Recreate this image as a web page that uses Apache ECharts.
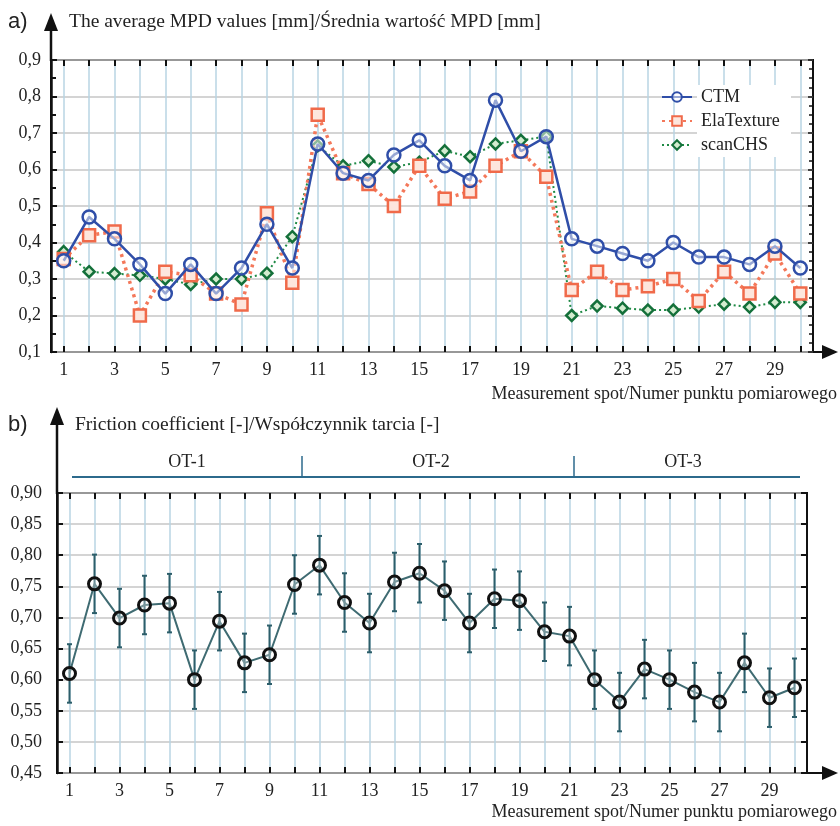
<!DOCTYPE html>
<html>
<head>
<meta charset="utf-8">
<script src="https://cdn.jsdelivr.net/npm/echarts@6/dist/echarts.min.js"></script>
<style>
html,body{margin:0;padding:0;background:#fff;}
#main{width:840px;height:826px;}
</style>
</head>
<body>
<div id="main"></div>
<script>
// ---- data ----
const categories = ['1','2','3','4','5','6','7','8','9','10','11','12','13','14','15','16','17','18','19','20','21','22','23','24','25','26','27','28','29','30'];
const ctm = [0.35,0.47,0.41,0.34,0.26,0.34,0.26,0.33,0.45,0.33,0.67,0.59,0.57,0.64,0.68,0.61,0.57,0.79,0.65,0.69,0.41,0.39,0.37,0.35,0.40,0.36,0.36,0.34,0.39,0.33];
const elaTexture = [0.355,0.42,0.43,0.20,0.32,0.31,0.26,0.23,0.48,0.29,0.75,0.59,0.56,0.50,0.61,0.52,0.54,0.61,0.65,0.58,0.27,0.32,0.27,0.28,0.30,0.24,0.32,0.26,0.37,0.26];
const scanCHS = [0.375,0.32,0.315,0.31,0.30,0.285,0.30,0.30,0.316,0.416,0.665,0.61,0.624,0.607,0.62,0.651,0.635,0.67,0.68,0.69,0.20,0.226,0.22,0.215,0.215,0.223,0.231,0.223,0.236,0.236];
const friction = [0.610,0.754,0.699,0.720,0.723,0.600,0.694,0.627,0.640,0.753,0.784,0.724,0.691,0.757,0.771,0.743,0.691,0.730,0.727,0.677,0.670,0.600,0.564,0.617,0.600,0.580,0.564,0.627,0.571,0.587];
const frictionErr = [0.047,0.047,0.047,0.047,0.047,0.047,0.047,0.047,0.047,0.047,0.047,0.047,0.047,0.047,0.047,0.047,0.047,0.047,0.047,0.047,0.047,0.047,0.047,0.047,0.047,0.047,0.047,0.047,0.047,0.047];
const sectionLabels = ['OT-1','OT-2','OT-3'];
const titleA = 'The average MPD values [mm]/Średnia wartość MPD [mm]';
const titleB = 'Friction coefficient [-]/Współczynnik tarcia [-]';
const xName = 'Measurement spot/Numer punktu pomiarowego';

// ---- styles ----
const SERIF = '"Liberation Serif", "Times New Roman", serif';
const SANS = '"Liberation Sans", Arial, sans-serif';
const VGRID = '#b9d4e3';
const HGRID = '#c6c6c6';
const TXT = '#222';

const chart = echarts.init(document.getElementById('main'), null, {renderer:'canvas'});

function xMain(gridIndex){
  return {
    type:'category', gridIndex, data:categories, position:'bottom', boundaryGap:true,
    axisLine:{show:false},
    axisTick:{show:true, inside:true, alignWithLabel:true, interval:0, length:6, lineStyle:{color:'#111', width:2}},
    axisLabel:{show:true, interval:1, margin:9, fontFamily:SERIF, fontSize:18, color:TXT},
    splitLine:{show:true, interval:0, alignWithLabel:true, lineStyle:{color:VGRID, width:1.5}}
  };
}
function xTop(gridIndex){
  return {
    type:'category', gridIndex, data:categories, position:'top', boundaryGap:true,
    axisLine:{show:false},
    axisTick:{show:true, inside:true, alignWithLabel:true, interval:0, length:6, lineStyle:{color:'#111', width:2}},
    axisLabel:{show:false}, splitLine:{show:false}
  };
}

const errData = friction.map((v,i)=>[i, v - frictionErr[i], v + frictionErr[i]]);

const option = {
  backgroundColor:'#fff',
  animation:false,
  grid:[
    {left:51, top:60, width:762, height:292, show:true, borderColor:'#111', borderWidth:2, backgroundColor:'transparent'},
    {left:57, top:493, width:750, height:280, show:true, borderColor:'#111', borderWidth:2, backgroundColor:'transparent'}
  ],
  xAxis:[ xMain(0), xTop(0), xMain(1), xTop(1) ],
  yAxis:[
    {type:'value', gridIndex:0, min:0.1, max:0.9, interval:0.1, position:'left',
      axisLine:{show:true, lineStyle:{color:'#111', width:2.5}},
      axisTick:{show:true, inside:true, length:6, lineStyle:{color:'#111', width:2}},
      minorTick:{show:true, splitNumber:2, length:5, lineStyle:{color:'#111', width:2}},
      axisLabel:{margin:10, fontFamily:SERIF, fontSize:18, color:TXT, formatter:v=>v.toFixed(1).replace('.',',')},
      splitLine:{show:true, lineStyle:{color:HGRID, width:1.5}}},
    {type:'value', gridIndex:0, min:0.1, max:0.9, interval:0.1, position:'right',
      axisLine:{show:false},
      axisTick:{show:true, inside:true, length:5, lineStyle:{color:'#111', width:1.5}},
      minorTick:{show:true, splitNumber:4, length:4, lineStyle:{color:'#111', width:1.5}},
      axisLabel:{show:false}, splitLine:{show:false}},
    {type:'value', gridIndex:1, min:0.45, max:0.9, interval:0.05, position:'left',
      axisLine:{show:true, lineStyle:{color:'#111', width:2.5}},
      axisTick:{show:true, inside:true, length:6, lineStyle:{color:'#111', width:2}},
      axisLabel:{margin:15, fontFamily:SERIF, fontSize:18, color:TXT, formatter:v=>v.toFixed(2).replace('.',',')},
      splitLine:{show:true, lineStyle:{color:HGRID, width:1.5}}},
    {type:'value', gridIndex:1, min:0.45, max:0.9, interval:0.05, position:'right',
      axisLine:{show:false},
      axisTick:{show:true, inside:true, length:6, lineStyle:{color:'#111', width:2}},
      axisLabel:{show:false}, splitLine:{show:false}}
  ],
  legend:{
    orient:'vertical', left:656, top:80, itemWidth:30, itemHeight:12, itemGap:0,
    data:['CTM','ElaTexture','scanCHS'],
    textStyle:{fontFamily:SERIF, fontSize:18, color:TXT, backgroundColor:'#fff', width:88, lineHeight:22, padding:[1,2,1,4]}
  },
  series:[
    {name:'scanCHS', type:'line', xAxisIndex:0, yAxisIndex:0, data:scanCHS, z:3,
      symbol:'diamond', symbolSize:11,
      lineStyle:{color:'#1f8a45', width:2, type:[2,3]},
      itemStyle:{color:'#d4ecd0', borderColor:'#14703a', borderWidth:2.5}},
    {name:'ElaTexture', type:'line', xAxisIndex:0, yAxisIndex:0, data:elaTexture, z:4,
      symbol:'rect', symbolSize:12,
      lineStyle:{color:'#f4785a', width:3.5, type:[3,4]},
      itemStyle:{color:'#fde6dd', borderColor:'#f06a4a', borderWidth:2.5}},
    {name:'CTM', type:'line', xAxisIndex:0, yAxisIndex:0, data:ctm, z:5,
      symbol:'circle', symbolSize:13,
      lineStyle:{color:'#2f4ea8', width:2.5},
      itemStyle:{color:'rgba(255,255,255,0.5)', borderColor:'#2f4ea8', borderWidth:2.5}},
    {name:'frictionErr', type:'custom', xAxisIndex:2, yAxisIndex:2, data:errData, z:3,
      encode:{x:0, y:[1,2]},
      renderItem:function(params, api){
        const x = api.value(0);
        const lo = api.coord([x, api.value(1)]);
        const hi = api.coord([x, api.value(2)]);
        const c = 2.5;
        const st = {stroke:'#2c5e6a', lineWidth:2};
        return {type:'group', children:[
          {type:'line', shape:{x1:lo[0], y1:lo[1], x2:hi[0], y2:hi[1]}, style:st},
          {type:'line', shape:{x1:lo[0]-c, y1:lo[1], x2:lo[0]+c, y2:lo[1]}, style:st},
          {type:'line', shape:{x1:hi[0]-c, y1:hi[1], x2:hi[0]+c, y2:hi[1]}, style:st}
        ]};
      }},
    {name:'friction', type:'line', xAxisIndex:2, yAxisIndex:2, data:friction, z:5,
      symbol:'circle', symbolSize:12,
      lineStyle:{color:'#3f6b72', width:2},
      itemStyle:{color:'rgba(255,255,255,0.3)', borderColor:'#111', borderWidth:3}}
  ],
  graphic:[
    // top chart axis arrows
    {type:'line', shape:{x1:51, y1:61, x2:51, y2:28}, style:{stroke:'#111', lineWidth:2.5}},
    {type:'polygon', shape:{points:[[51,13],[44,31],[58,31]]}, style:{fill:'#111'}},
    {type:'line', shape:{x1:812, y1:352, x2:824, y2:352}, style:{stroke:'#111', lineWidth:2}},
    {type:'polygon', shape:{points:[[838,352],[822,345],[822,359]]}, style:{fill:'#111'}},
    // bottom chart axis arrows
    {type:'line', shape:{x1:57, y1:494, x2:57, y2:422}, style:{stroke:'#111', lineWidth:2.5}},
    {type:'polygon', shape:{points:[[57,407],[50,425],[64,425]]}, style:{fill:'#111'}},
    {type:'line', shape:{x1:806, y1:773, x2:824, y2:773}, style:{stroke:'#111', lineWidth:2}},
    {type:'polygon', shape:{points:[[838,773],[822,766],[822,780]]}, style:{fill:'#111'}},
    // titles
    {type:'text', left:8, top:11, style:{text:'a)', font:'22px '+SANS, fill:TXT}},
    {type:'text', left:69, top:12, style:{text:titleA, font:'19.5px '+SERIF, fill:TXT}},
    {type:'text', right:3, top:385, style:{text:xName, font:'18px '+SERIF, fill:TXT}},
    {type:'text', left:8, top:414, style:{text:'b)', font:'22px '+SANS, fill:TXT}},
    {type:'text', left:75, top:415, style:{text:titleB, font:'19.5px '+SERIF, fill:TXT}},
    {type:'text', right:3, top:803, style:{text:xName, font:'18px '+SERIF, fill:TXT}},
    // OT sections
    {type:'line', shape:{x1:72, y1:477, x2:800, y2:477}, style:{stroke:'#2c6a8c', lineWidth:2}},
    {type:'line', shape:{x1:302, y1:456, x2:302, y2:477}, style:{stroke:'#2c6a8c', lineWidth:1.5}},
    {type:'line', shape:{x1:574, y1:456, x2:574, y2:477}, style:{stroke:'#2c6a8c', lineWidth:1.5}},
    {type:'text', x:187, y:462, style:{text:sectionLabels[0], font:'18px '+SERIF, fill:TXT, align:'center', verticalAlign:'middle'}},
    {type:'text', x:431, y:462, style:{text:sectionLabels[1], font:'18px '+SERIF, fill:TXT, align:'center', verticalAlign:'middle'}},
    {type:'text', x:683, y:462, style:{text:sectionLabels[2], font:'18px '+SERIF, fill:TXT, align:'center', verticalAlign:'middle'}}
  ]
};
chart.setOption(option);
</script>
</body>
</html>
